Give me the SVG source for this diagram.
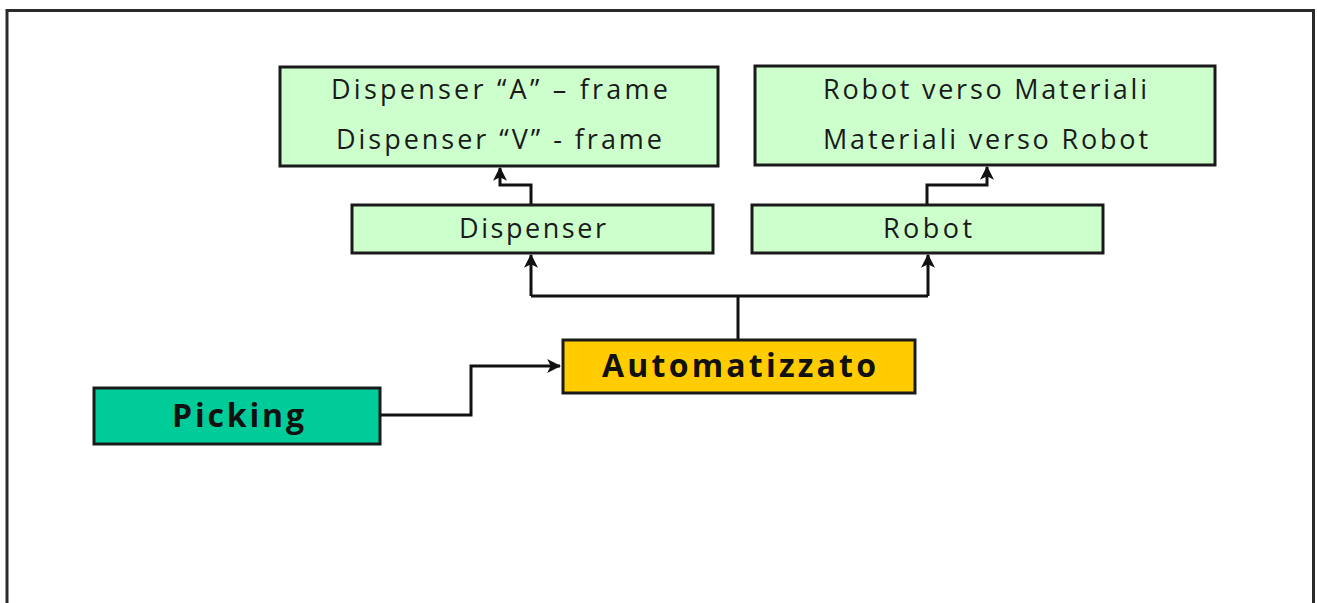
<svg xmlns="http://www.w3.org/2000/svg" width="1317" height="603" viewBox="0 0 1317 603">
<defs>
<style>
.lg{fill:#ccffcc;stroke:#1a1a1a;stroke-width:3}
.t{font-family:"Open Sans","Liberation Sans",sans-serif;font-size:27px;fill:#1a1a1a;text-anchor:middle}
.b{font-family:"Open Sans","Liberation Sans",sans-serif;font-size:32px;font-weight:bold;fill:#111;text-anchor:middle}
.c{fill:none;stroke:#111;stroke-width:3}
</style>
<marker id="a" viewBox="0 0 12 12" refX="11" refY="6" markerWidth="14" markerHeight="14" orient="auto" markerUnits="userSpaceOnUse">
<path d="M0,0 L12,6 L0,12 L3,6 z" fill="#111"/>
</marker>
</defs>
<rect x="0" y="0" width="1317" height="603" fill="#fff"/>
<path d="M7,603 V10.5 H1313.5 V603" fill="none" stroke="#2a2a2a" stroke-width="3"/>
<g id="connectors">
<path class="c" d="M531,204 V185 H500 V168" marker-end="url(#a)"/>
<path class="c" d="M927,204 V185 H987 V167" marker-end="url(#a)"/>
<path class="c" d="M738,339 V296"/>
<path class="c" d="M531,296 H928"/>
<path class="c" d="M531,296 V255" marker-end="url(#a)"/>
<path class="c" d="M928,296 V255" marker-end="url(#a)"/>
<path class="c" d="M380,415 H471 V366 H560" marker-end="url(#a)"/>
</g>
<g id="node-dispenser-frames">
<rect class="lg" x="280" y="67" width="438" height="99"/>
<text class="t" x="499.5" y="99" textLength="337" lengthAdjust="spacing">Dispenser “A” – frame</text>
<text class="t" x="499" y="149" textLength="326" lengthAdjust="spacing">Dispenser “V” - frame</text>
</g>
<g id="node-robot-materiali">
<rect class="lg" x="755" y="66" width="460" height="99"/>
<text class="t" x="985" y="99" textLength="324" lengthAdjust="spacing">Robot verso Materiali</text>
<text class="t" x="985.5" y="149" textLength="325" lengthAdjust="spacing">Materiali verso Robot</text>
</g>
<g id="node-dispenser">
<rect class="lg" x="352" y="205" width="361" height="48"/>
<text class="t" x="532.5" y="238" textLength="147" lengthAdjust="spacing">Dispenser</text>
</g>
<g id="node-robot">
<rect class="lg" x="752" y="205" width="351" height="48"/>
<text class="t" x="927.5" y="238" textLength="89" lengthAdjust="spacing">Robot</text>
</g>
<g id="node-automatizzato">
<rect x="563" y="340" width="352" height="53" fill="#ffcc00" stroke="#1a1a1a" stroke-width="3"/>
<text class="b" x="739" y="377" textLength="274" lengthAdjust="spacing">Automatizzato</text>
</g>
<g id="node-picking">
<rect x="94" y="388" width="286" height="56" fill="#00cc99" stroke="#1a1a1a" stroke-width="3"/>
<text class="b" x="238" y="427" textLength="132" lengthAdjust="spacing">Picking</text>
</g>
</svg>
